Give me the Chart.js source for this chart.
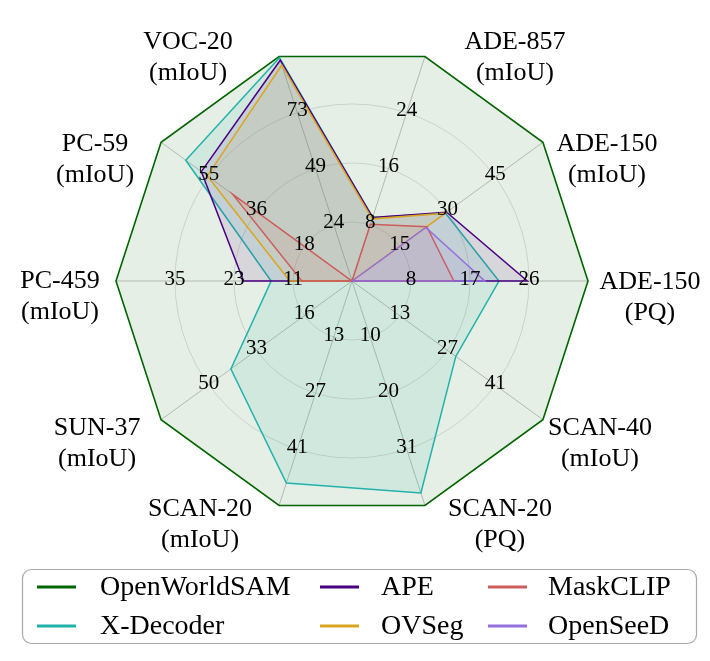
<!DOCTYPE html>
<html>
<head>
<meta charset="utf-8">
<script src="https://cdn.jsdelivr.net/npm/chart.js@4.4.1/dist/chart.umd.min.js"></script>
<style>
  html, body { margin: 0; padding: 0; background: #fff; }
  canvas { display: block; }
</style>
</head>
<body>
<canvas id="radar" width="710" height="661"></canvas>
<script>
// axes, clockwise from VOC-20
const categories = ['VOC-20', 'ADE-857', 'ADE-150', 'ADE-150', 'SCAN-40', 'SCAN-20', 'SCAN-20', 'SUN-37', 'PC-459', 'PC-59']
const metrics = ['mIoU', 'mIoU', 'mIoU', 'PQ', 'mIoU', 'PQ', 'mIoU', 'mIoU', 'mIoU', 'mIoU']

// outer ring of every axis (OpenWorldSAM) and the ring labels at 1/4, 1/2, 3/4
const axisMax = [98.2, 32.5, 60.5, 35.0, 55.0, 41.5, 55.0, 67.0, 47.0, 73.5]
const tickLabels = [
    [24, 49, 73], [8, 16, 24], [15, 30, 45], [8, 17, 26], [13, 27, 41],
    [10, 20, 31], [13, 27, 41], [16, 33, 50], [11, 23, 35], [18, 36, 55]
]

// scores per model, 0 = not reported
const openWorldSAM = [98.2, 32.5, 60.5, 35.0, 55.0, 41.5, 55.0, 67.0, 47.0, 73.5]
const xDecoder = [97.7, 9.2, 29.6, 21.8, 29.9, 39.2, 49.5, 42.5, 16.1, 64.0]
const ape = [96.6, 9.2, 30.0, 26.0, 0, 0, 0, 0, 21.6, 58.0]
const ovseg = [94.5, 9.0, 29.6, 0, 0, 0, 0, 0, 12.4, 55.7]
const maskClip = [0, 8.2, 23.7, 15.1, 0, 0, 0, 0, 10.0, 45.9]
const openSeeD = [0, 0, 23.4, 19.7, 0, 0, 0, 0, 0, 0]

const serif = "'Liberation Serif', 'Times New Roman', serif"

const models = [
    { label: 'OpenWorldSAM', data: openWorldSAM, color: '0,100,0' },
    { label: 'X-Decoder', data: xDecoder, color: '32,178,170' },
    { label: 'APE', data: ape, color: '75,0,130' },
    { label: 'OVSeg', data: ovseg, color: '218,165,32' },
    { label: 'MaskCLIP', data: maskClip, color: '205,92,92' },
    { label: 'OpenSeeD', data: openSeeD, color: '147,112,219' }
]

// each axis has its own range, so plot value / axis max
const norm = arr => arr.map((v, i) => v / axisMax[i])

// per-axis ring values
const axisTicks = {
    id: 'axisTicks',
    afterDatasetsDraw(chart) {
        const r = chart.scales.r
        const ctx = chart.ctx
        ctx.save()
        ctx.font = '21px ' + serif
        ctx.fillStyle = '#000'
        ctx.textAlign = 'center'
        ctx.textBaseline = 'middle'
        tickLabels.forEach((ticks, i) => {
            ticks.forEach((t, k) => {
                const p = r.getPointPositionForValue(i, (k + 1) / 4)
                ctx.fillText(t, p.x, p.y - 2)
            })
        })
        ctx.restore()
    }
}

// axis names, placed next to each vertex of the outer ring
const labelShift = [[-91, 1], [90, 1], [64, 17], [62, 17], [57, 24], [75, 19], [-79, 19], [-64, 24], [-56, 16], [-66, 17]]
const axisNames = {
    id: 'axisNames',
    afterDraw(chart) {
        const r = chart.scales.r
        const ctx = chart.ctx
        ctx.save()
        ctx.font = '26px ' + serif
        ctx.fillStyle = '#000'
        ctx.textAlign = 'center'
        ctx.textBaseline = 'middle'
        categories.forEach((name, i) => {
            const p = r.getPointPosition(i, r.drawingArea)
            const x = p.x + labelShift[i][0]
            const y = p.y + labelShift[i][1]
            ctx.fillText(name, x, y - 15.5)
            ctx.fillText('(' + metrics[i] + ')', x, y + 15.5)
        })
        ctx.restore()
    }
}

// boxed legend, 3 columns filled top to bottom
const boxLegend = {
    id: 'boxLegend',
    afterDraw(chart) {
        const ctx = chart.ctx
        const lineX = [37, 320, 488]
        const textX = [100, 381, 548]
        const rowY = [587, 626]
        ctx.save()
        ctx.beginPath()
        ctx.roundRect(22.5, 569.5, 674, 74, 9)
        ctx.fillStyle = 'rgba(255,255,255,0.8)'
        ctx.fill()
        ctx.strokeStyle = '#a8a8a8'
        ctx.lineWidth = 1.2
        ctx.stroke()
        ctx.font = '28px ' + serif
        ctx.textBaseline = 'middle'
        ctx.textAlign = 'left'
        chart.data.datasets.forEach((ds, j) => {
            const col = Math.floor(j / 2)
            const row = j % 2
            const y = rowY[row]
            ctx.strokeStyle = ds.borderColor
            ctx.lineWidth = 3
            ctx.beginPath()
            ctx.moveTo(lineX[col], y)
            ctx.lineTo(lineX[col] + 39, y)
            ctx.stroke()
            ctx.fillStyle = '#000'
            ctx.fillText(ds.label, textX[col], y + 1)
        })
        ctx.restore()
    }
}

document.addEventListener('DOMContentLoaded', function() {
    const ctx = document.getElementById('radar').getContext('2d')
    new Chart(ctx, {
        type: 'radar',
        data: {
            labels: categories.map((c, i) => c + ' (' + metrics[i] + ')'),
            datasets: models.map((m, idx) => ({
                label: m.label,
                data: norm(m.data),
                borderColor: 'rgb(' + m.color + ')',
                backgroundColor: 'rgba(' + m.color + ',0.1)',
                borderWidth: idx === 0 ? 1.6 : 1.5,
                fill: true,
                pointRadius: 0,
                pointHoverRadius: 0,
                tension: 0,
                order: models.length - idx
            }))
        },
        options: {
            responsive: false,
            animation: false,
            layout: {
                padding: { left: 116, right: 122, top: 45, bottom: 144 }
            },
            scales: {
                r: {
                    min: 0,
                    max: 1,
                    startAngle: -18,
                    ticks: { display: false, stepSize: 0.25 },
                    grid: {
                        circular: true,
                        lineWidth: 1,
                        color: c => (c.tick && c.tick.value >= 1) ? 'rgba(0,0,0,0)' : 'rgba(0,0,0,0.13)'
                    },
                    angleLines: { color: 'rgba(0,0,0,0.24)', lineWidth: 1 },
                    pointLabels: { display: false }
                }
            },
            plugins: {
                legend: { display: false },
                tooltip: { enabled: false }
            }
        },
        plugins: [axisTicks, axisNames, boxLegend]
    })
})
</script>
</body>
</html>
